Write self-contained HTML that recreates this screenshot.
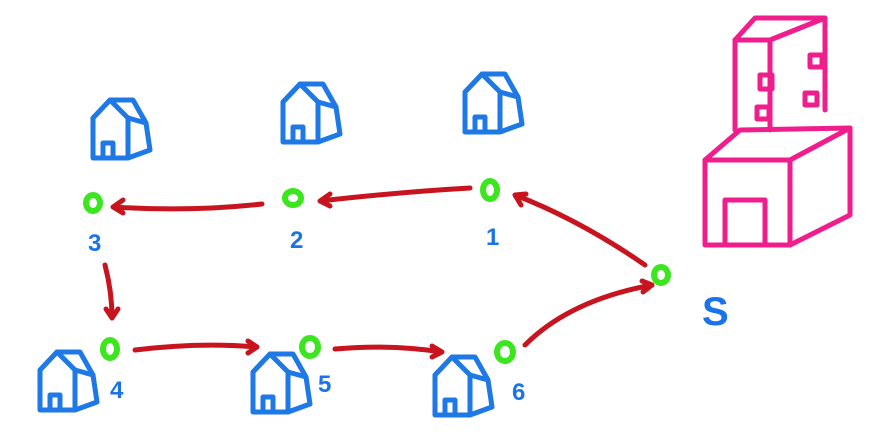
<!DOCTYPE html>
<html><head><meta charset="utf-8"><style>
html,body{margin:0;padding:0;background:#fff;}
svg{display:block;}
text{font-family:"Liberation Sans",sans-serif;fill:#1a73e8;font-weight:bold;}
.h{fill:none;stroke:#1e78e6;stroke-width:5;stroke-linecap:round;stroke-linejoin:round;}
.b{fill:none;stroke:#f01e8c;stroke-width:5;stroke-linecap:round;stroke-linejoin:round;}
.r{fill:none;stroke:#c8141e;stroke-width:5;stroke-linecap:round;stroke-linejoin:round;}
.g{fill:none;stroke:#3ce61e;stroke-width:6;}
</style></head><body>
<svg width="896" height="448" viewBox="0 0 896 448">
<defs>
<g id="house">
<path class="h" d="M-25,10 L-25,-20 L-8,-38 L10,-20 L10,20 L-25,20 Z"/>
<path class="h" d="M-8,-38 L15,-38 L28,-15 L10,-20"/>
<path class="h" d="M10,20 L32,12 L28,-15"/>
<path class="h" d="M-15,20 L-15,5 L-5,5 L-5,20"/>
</g>
</defs>
<g>
<use href="#house" x="118" y="138"/>
<use href="#house" x="308" y="122"/>
<use href="#house" x="490" y="112"/>
<use href="#house" x="65" y="390"/>
<use href="#house" x="278" y="392"/>
<use href="#house" x="460" y="395"/>
</g>
<g>
<path class="b" d="M705,160 L705,245 L790,245 L790,160 Z"/>
<path class="b" d="M705,160 L740,130 L850,128 L790,160"/>
<path class="b" d="M790,245 L850,215 L850,128"/>
<path class="b" d="M735,130 L735,40 L770,40 L770,130"/>
<path class="b" d="M735,40 L755,18 L825,18 L825,110 M770,40 L825,18"/>
<path class="b" d="M725,245 L725,200 L765,200 L765,245"/>
<path class="b" d="M760,75 h12 v14 h-12 z M757,107 h12 v12 h-12 z M810,55 h12 v12 h-12 z M805,93 h12 v12 h-12 z"/>
</g>
<g>
<path class="r" d="M470,188 Q400,192 320,201 M320,201 l10,-7 M320,201 l10,5"/>
<path class="r" d="M262,204 Q190,212 113,207 M113,207 l10,-7 M113,207 l10,6"/>
<path class="r" d="M105,265 Q112,292 112,318 M112,318 l-6,-9 M112,318 l6,-9"/>
<path class="r" d="M135,350 Q200,342 257,347 M257,347 l-9,-6 M257,347 l-9,6"/>
<path class="r" d="M335,349 Q390,344 442,352 M442,352 l-10,-6 M442,352 l-10,5"/>
<path class="r" d="M525,345 Q570,300 652,285 M652,285 l-10,-4 M652,285 l-9,7"/>
<path class="r" d="M645,265 Q580,220 515,195 M515,195 l6,10 M515,195 l11,-1"/>
</g>
<g>
<ellipse class="g" cx="93" cy="203" rx="7" ry="8"/>
<ellipse class="g" cx="293" cy="198" rx="8" ry="7"/>
<ellipse class="g" cx="490" cy="190" rx="7" ry="9"/>
<ellipse class="g" cx="661" cy="275" rx="7" ry="8"/>
<ellipse class="g" cx="110" cy="349" rx="7" ry="9"/>
<ellipse class="g" cx="310" cy="347" rx="8" ry="9"/>
<ellipse class="g" cx="505" cy="352" rx="8" ry="9"/>
</g>
<g>
<text x="88" y="251" font-size="24">3</text>
<text x="290" y="248" font-size="24">2</text>
<text x="486" y="245" font-size="24">1</text>
<text x="702" y="325" font-size="40">S</text>
<text x="110" y="398" font-size="24">4</text>
<text x="318" y="392" font-size="24">5</text>
<text x="512" y="400" font-size="24">6</text>
</g>
</svg>
</body></html>
